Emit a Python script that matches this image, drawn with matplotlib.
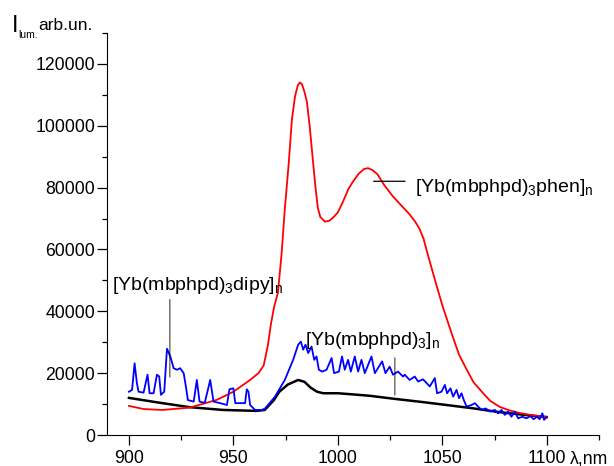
import matplotlib
matplotlib.use("Agg")
import matplotlib.pyplot as plt
from matplotlib.ticker import MultipleLocator

plt.rcParams['font.family'] = ['Liberation Sans', 'DejaVu Sans']
plt.rcParams['mathtext.fontset'] = 'custom'
plt.rcParams['mathtext.rm'] = 'Liberation Sans'
plt.rcParams['mathtext.it'] = 'Liberation Sans:italic'

# [Yb(mbphpd)3phen]n
red_x = [900, 907, 916, 929, 942, 950, 958, 962, 964.5, 966.5, 968, 969.5, 971.3, 973,
         974.6, 976.5, 978, 979.5, 980.8, 981.8, 982.8, 984, 985.2, 986.5, 988, 989.3,
         990.4, 991.6, 993.8, 996, 998, 1000, 1002.5, 1005, 1007, 1010, 1012.5, 1014.4,
         1016.5, 1019, 1022, 1026.3, 1030, 1034.4, 1037, 1039, 1041, 1043, 1046.4, 1050.2,
         1055, 1058, 1061.7, 1065, 1069.4, 1073, 1077.5, 1082, 1087, 1093, 1100]
red_y = [9400, 8400, 8100, 8850, 11350, 14000, 17800, 20000, 22500, 29000, 36000, 41500,
         46000, 58000, 73000, 88000, 102000, 109500, 113000, 114000, 113500, 111000, 107700,
         100000, 89200, 80000, 73500, 70500, 69000, 69300, 70500, 72000, 75500, 79500,
         81700, 84500, 86000, 86300, 85700, 84300, 81000, 77200, 74500, 71300, 69000,
         66800, 63500, 58500, 50300, 41500, 31800, 26000, 21100, 17000, 13600, 11000,
         9080, 8000, 7100, 6400, 5800]

# [Yb(mbphpd)3]n
black_x = [900, 915, 929, 945, 961, 965, 969.4, 972, 976, 981, 984, 987, 990, 993, 1000,
           1004, 1015, 1027, 1040, 1052, 1065, 1076, 1088, 1100]
black_y = [12000, 10400, 9000, 8100, 7800, 8100, 11300, 14000, 16300, 17800, 17200, 15300,
           14000, 13500, 13500, 13300, 12700, 11700, 10700, 9700, 8600, 7500, 6600, 5800]

# [Yb(mbphpd)3dipy]n
blue_x = [900, 901.5, 902.7, 903.8, 904.6, 907, 908.9, 909.9, 911.8, 913.4, 914.5, 915.3,
          916.9, 918.2, 919.8, 921.4, 923, 924.5, 926.2, 927.4, 928.2, 931, 932.5, 933.8,
          936.3, 938.9, 940.5, 943.7, 946.9, 948.1, 950, 950.9, 953.2, 955.6, 956.4, 957.2,
          958, 960.4, 963.6, 965.2, 969.9, 974.6, 978.6, 981, 982.3, 983.4, 984.5, 985.8,
          987.4, 988.7, 989.8, 990.9, 992.5, 994.6, 997, 998.2, 1000.5, 1002, 1003.3,
          1004.9, 1006.2, 1008.1, 1009.7, 1011.3, 1012.9, 1016.1, 1017.7, 1021.2, 1022.8,
          1024.8, 1026.4, 1028.8, 1031.2, 1032, 1034.4, 1036.8, 1038.4, 1040.8, 1044,
          1046.4, 1047.5, 1049.6, 1051.2, 1052.3, 1053.9, 1055.2, 1056.8, 1058, 1059.2,
          1060.3, 1061.6, 1064, 1065.6, 1067.1, 1068.8, 1070.8, 1072.7, 1075.1, 1076.7,
          1078.3, 1079.9, 1081.5, 1083.1, 1084.7, 1086.3, 1088.3, 1090.2, 1092.2, 1093.7,
          1095.3, 1096.6, 1097.9, 1098.7, 1099.8]
blue_y = [14000, 14600, 23200, 16800, 14000, 13700, 19500, 13500, 13500, 19500, 18900, 13000,
          14000, 27900, 25400, 21600, 21100, 21600, 20000, 15100, 11300, 10800, 17800, 10800,
          10400, 17800, 10800, 10300, 9700, 14800, 15100, 10300, 10300, 10300, 14800, 14000,
          9700, 8100, 8100, 8600, 12400, 17800, 24300, 29200, 30200, 27600, 29200, 26500,
          28600, 24300, 25400, 21100, 20500, 21100, 24900, 20000, 20500, 25400, 21100,
          24300, 20500, 25400, 20500, 24300, 20000, 25400, 20000, 23800, 20000,
          22100, 19500, 20500, 18900, 19500, 17800, 18900, 17300, 18000, 15700,
          18400, 13500, 14000, 16200, 13500, 15100, 12400, 14600, 11900, 13500,
          11300, 9200, 9700, 10300, 9200, 8100, 8600, 7600, 8100, 7000,
          8100, 6500, 7600, 5900, 7600, 5400, 5900, 5400, 6100, 5100,
          5900, 5100, 7000, 4900, 5700]

fig = plt.figure(figsize=(6.14, 4.66), dpi=100)
ax = fig.add_axes([107 / 614, 31 / 466, 492 / 614, 402 / 466])

ax.plot(black_x, black_y, color='black', lw=1.8)
ax.plot(red_x, red_y, color='#ff0000', lw=1.3)
ax.plot(blue_x, blue_y, color='#0000ff', lw=1.3)

ax.set_xlim(889.5, 1125)
ax.set_ylim(0, 130000)
ax.xaxis.set_minor_locator(MultipleLocator(25))
ax.yaxis.set_major_locator(MultipleLocator(20000))
ax.yaxis.set_minor_locator(MultipleLocator(10000))
ax.set_xticks([900, 950, 1000, 1050, 1100])
ax.spines['top'].set_visible(False)
ax.spines['right'].set_visible(False)
ax.tick_params(which='major', length=7, width=0.9, labelsize=12.7)
ax.tick_params(which='minor', length=3.5, width=0.9)
ax.tick_params(axis='x', which='major', pad=4)
ax.tick_params(axis='y', which='major', pad=1.5)

# labels for curves
ax.annotate('', xy=(1015.8, 82050), xytext=(1033.5, 82050),
            arrowprops=dict(arrowstyle='-', color='black', lw=0.9))
ax.text(1036.8, 78500, r'[Yb(mbphpd)$_\mathrm{3}$phen]$_\mathrm{n}$', fontsize=14,
        va='baseline', ha='left')

ax.annotate('', xy=(919.6, 17800), xytext=(919.6, 44750),
            arrowprops=dict(arrowstyle='-', color='black', lw=0.6))
ax.text(891.9, 47000, r'[Yb(mbphpd)$_\mathrm{3}$dipy]$_\mathrm{n}$', fontsize=14,
        va='baseline', ha='left')

ax.annotate('', xy=(1027.3, 12000), xytext=(1027.3, 25900),
            arrowprops=dict(arrowstyle='-', color='black', lw=0.6))
ax.text(984.2, 29200, r'[Yb(mbphpd)$_\mathrm{3}$]$_\mathrm{n}$', fontsize=14,
        va='baseline', ha='left')

# axis titles
fig.text(12 / 614, 1 - 32 / 466, 'I', fontsize=17, va='baseline')
fig.text(18 / 614, 1 - 38 / 466, 'lum.', fontsize=7.5, va='baseline')
fig.text(38 / 614, 1 - 30 / 466, 'arb.un.', fontsize=12.5, va='baseline')
fig.text(570 / 614, 1 - 463 / 466, 'λ,nm', fontsize=12.7, va='baseline')

fig.savefig('out.png', dpi=100)
